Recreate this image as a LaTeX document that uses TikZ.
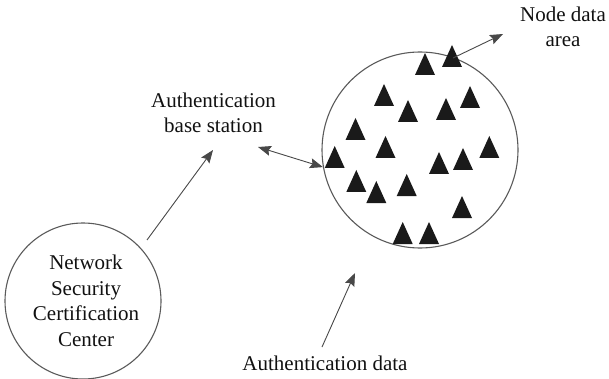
\documentclass[tikz,border=0pt]{standalone}
\usepackage{fontspec}
\setmainfont{Liberation Serif}
\usetikzlibrary{arrows.meta}
\definecolor{linegray}{HTML}{484848}
\definecolor{circgray}{HTML}{5A5A5A}
\definecolor{trifill}{HTML}{1A1A1A}
\definecolor{txt}{HTML}{111111}
\begin{document}
\begin{tikzpicture}[x=1pt,y=-1pt,
  lbl/.style={align=center,text=txt,font=\fontsize{21}{25.5}\selectfont,inner sep=0pt},
  ring/.style={circle,draw=circgray,line width=1.1pt,inner sep=0pt},
  conn/.style={draw=linegray,line width=0.9pt,-{Stealth[length=13pt,width=10pt,inset=2pt]}},
  dconn/.style={draw=linegray,line width=0.9pt,{Stealth[length=13pt,width=10pt,inset=2pt]}-{Stealth[length=13pt,width=10pt,inset=2pt]}},
  tri/.pic={\fill[trifill] (-10,0) -- (10,0) -- (0,-22) -- cycle;}]
\useasboundingbox (0,0) rectangle (609,379);
% circles
\node[ring,minimum size=156pt] (nscc) at (83,301) {};
\node[lbl] (nscctext) at (86,301) {Network\\Security\\Certification\\Center};
\node[ring,minimum size=196pt] (area) at (420,150) {};
% labels
\node[lbl] (bs) at (213.5,113) {Authentication\\base station};
\node[lbl] (nda) at (563,27) {Node data\\area};
\node[lbl] (ad) at (325,363) {Authentication data};
% triangles (base centre)
\foreach \x/\y in {425/75, 452/67, 384/106, 408/122, 446/120, 470/108,
  355.5/140, 385.5/158, 334.7/168, 489.3/158, 463/170, 439/174,
  356.3/192, 376.3/203, 406.7/196, 462/218, 402.7/244, 429/244}
  \pic at (\x,\y) {tri};
% connector endpoints
\coordinate (c1s) at (147,240);
\coordinate (c1e) at (213,150);
\coordinate (c2s) at (258,147);
\coordinate (c3s) at (322,347);
\coordinate (c3e) at (355,273);
\coordinate (tA) at (453,58);
\coordinate (c4e) at (503,34);
% connectors
\draw[conn] (c1s) -- (c1e);
\draw[dconn] (c2s) -- (area.190.7);
\draw[conn] (c3s) -- (c3e);
\draw[conn] (tA) -- (c4e);
\end{tikzpicture}
\end{document}
